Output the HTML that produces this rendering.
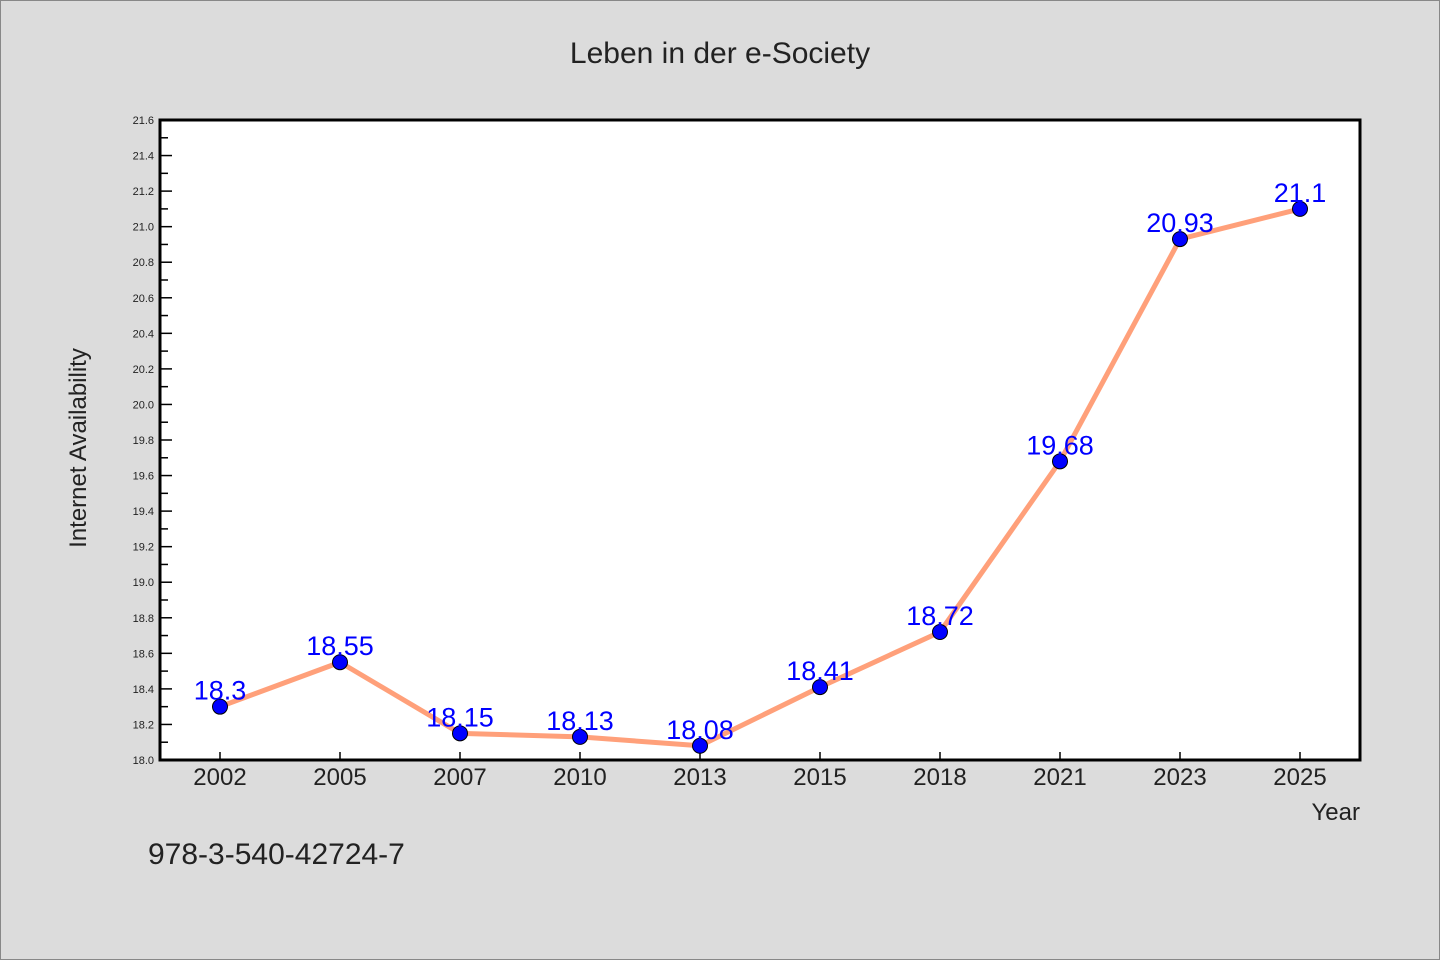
<!DOCTYPE html>
<html><head><meta charset="utf-8"><style>
html,body{margin:0;padding:0;background:#dcdcdc}
svg{display:block}
text{font-family:"WenQuanYi Zen Hei","Liberation Sans",sans-serif}
</style></head><body>
<svg id="chart" width="1440" height="960" viewBox="0 0 1440 960">
<rect x="0.5" y="0.5" width="1439" height="959" fill="#dcdcdc" stroke="#888"/>
<text x="720" y="63" text-anchor="middle" font-size="30" fill="#222">Leben in der e-Society</text>
<rect x="160" y="120" width="1200" height="640" fill="#fff"/>
<g id="axes"></g>
<g id="series"></g>
<rect x="160" y="120" width="1200" height="640" fill="none" stroke="#000" stroke-width="3"/>
<text x="86" y="448" transform="rotate(-90 86 448)" text-anchor="middle" font-size="24" fill="#222">Internet Availability</text>
<text x="1360" y="820" text-anchor="end" font-size="24" fill="#222">Year</text>
<text x="148" y="864" font-size="30" fill="#222">978-3-540-42724-7</text>
</svg>
<script>
const categories=["2002","2005","2007","2010","2013","2015","2018","2021","2023","2025"];
const values=[18.3,18.55,18.15,18.13,18.08,18.41,18.72,19.68,20.93,21.1];
const valueLabels=["18.3","18.55","18.15","18.13","18.08","18.41","18.72","19.68","20.93","21.1"];
const yTicks=[18.0,18.2,18.4,18.6,18.8,19.0,19.2,19.4,19.6,19.8,20.0,20.2,20.4,20.6,20.8,21.0,21.2,21.4,21.6];
const yMin=18.0,yMax=21.6;
const L=160,R=1360,T=120,B=760;
const NS="http://www.w3.org/2000/svg";
function x(i){return L+(R-L)/categories.length*(i+0.5);}
function y(v){return B-(v-yMin)/(yMax-yMin)*(B-T);}
function mk(tag,attrs,parent){const e=document.createElementNS(NS,tag);for(const k in attrs)e.setAttribute(k,attrs[k]);parent.appendChild(e);return e;}
const axes=document.getElementById('axes'),series=document.getElementById('series');
yTicks.forEach((t,i)=>{
  const tk=mk('line',{x1:L,x2:L+12,y1:y(t),y2:y(t),stroke:'#000','stroke-width':1.5},axes);
  
  
  const lb=mk('text',{x:L-6,y:y(t)+4,'text-anchor':'end','font-size':11,fill:'#222'},axes);
  lb.textContent=t.toFixed(1);
  
  
  if(i<yTicks.length-1){
    const m=(t+yTicks[i+1])/2;
    const mt=mk('line',{x1:L,x2:L+8,y1:y(m),y2:y(m),stroke:'#000','stroke-width':1.5},axes);
    
    
  }
});
categories.forEach((c,i)=>{
  const tk=mk('line',{x1:x(i),x2:x(i),y1:B,y2:B-8,stroke:'#000','stroke-width':1.5},axes);
  
  
  const lb=mk('text',{x:x(i),y:B+25,'text-anchor':'middle','font-size':24,fill:'#222'},axes);
  lb.textContent=c;
  
  
});
const line=mk('polyline',{points:values.map((v,i)=>x(i)+','+y(v)).join(' '),fill:'none',stroke:'#ffa07a','stroke-width':5,'stroke-linejoin':'round'},series);


values.forEach((v,i)=>{
  const p=mk('circle',{cx:x(i),cy:y(v),r:7.5,fill:'#0000ff',stroke:'#000','stroke-width':1},series);
  
  
  const t=mk('text',{x:x(i),y:y(v)-7,'text-anchor':'middle','font-size':27,fill:'#0000ff'},series);
  t.textContent=valueLabels[i];
  
  
});
</script>
</body></html>
